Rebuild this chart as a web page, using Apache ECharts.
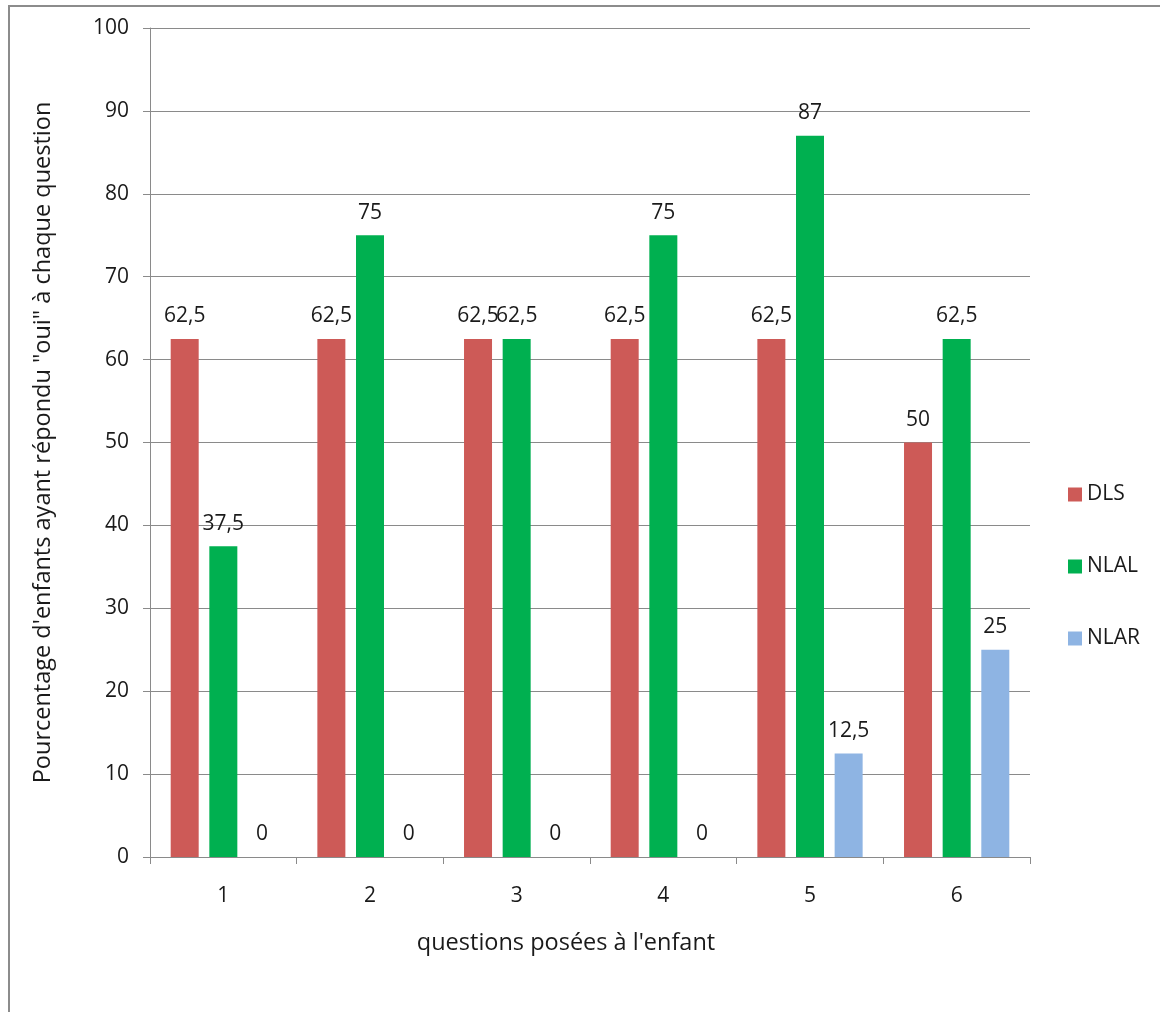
<!DOCTYPE html>
<html>
<head>
<meta charset="utf-8">
<script src="https://cdn.jsdelivr.net/npm/echarts@6/dist/echarts.min.js"></script>
<style>
  html, body { margin: 0; padding: 0; background: #fff; }
  #chart { width: 1160px; height: 1012px; }
</style>
</head>
<body>
<div id="chart"></div>
<script>
// Questions asked to the child
const questions = ['1', '2', '3', '4', '5', '6'];
// Percentage of children answering "oui", per group
const dls  = [62.5, 62.5, 62.5, 62.5, 62.5, 50];
const nlal = [37.5, 75, 62.5, 75, 87, 62.5];
const nlar = [0, 0, 0, 0, 12.5, 25];
const yTicks = { min: 0, max: 100, step: 10 };

const FONT = '"Open Sans"';
const FS = 21;        // tick labels, data labels, legend
const FS_TITLE = 23.5; // axis titles
const TEXT = '#1a1a1a';
const AXIS = '#8a8a8a';

const frenchNumber = v => String(v).replace('.', ',');

function barSeries(name, data, color) {
  return {
    name: name,
    type: 'bar',
    data: data,
    barWidth: 28,
    barGap: '38%',
    itemStyle: { color: color },
    label: {
      show: true,
      position: 'top',
      distance: 12,
      color: TEXT,
      fontFamily: FONT,
      fontSize: FS,
      formatter: p => frenchNumber(p.value)
    }
  };
}

const chart = echarts.init(document.getElementById('chart'));
chart.setOption({
  animation: false,
  backgroundColor: '#fff',
  textStyle: { fontFamily: FONT },
  grid: { left: 150, right: 130, top: 28, bottom: 155, containLabel: false },
  legend: {
    orient: 'vertical',
    left: 1063,
    top: 479,
    itemWidth: 14,
    itemHeight: 14,
    itemGap: 51,
    icon: 'rect',
    textStyle: { fontFamily: FONT, fontSize: FS, color: TEXT, padding: [0, 0, 0, 0] },
    data: ['DLS', 'NLAL', 'NLAR']
  },
  xAxis: {
    type: 'category',
    data: questions,
    axisLine: { show: true, lineStyle: { color: AXIS, width: 1 } },
    axisTick: { show: true, length: 7, alignWithLabel: false, lineStyle: { color: AXIS } },
    axisLabel: { color: TEXT, fontFamily: FONT, fontSize: FS, margin: 29 },
    splitLine: { show: false }
  },
  yAxis: {
    type: 'value',
    min: yTicks.min,
    max: yTicks.max,
    interval: yTicks.step,
    axisLine: { show: true, lineStyle: { color: AXIS, width: 1 } },
    axisTick: { show: true, length: 7, lineStyle: { color: AXIS } },
    axisLabel: { color: TEXT, fontFamily: FONT, fontSize: FS, margin: 21 },
    splitLine: { show: true, lineStyle: { color: AXIS, width: 1 } },
    name: 'Pourcentage d\'enfants ayant répondu "oui" à chaque question',
    nameLocation: 'middle',
    nameGap: 95,
    nameRotate: 90,
    nameTextStyle: { color: TEXT, fontFamily: FONT, fontSize: FS_TITLE }
  },
  graphic: [
    {
      type: 'rect',
      silent: true,
      shape: { x: 9, y: 6, width: 1300, height: 1200 },
      style: { fill: 'none', stroke: '#8c8c8c', lineWidth: 2 },
      z: -1
    },
    {
      type: 'text',
      silent: true,
      x: 566,
      y: 943,
      style: {
        text: 'questions posées à l\'enfant',
        fontFamily: FONT,
        fontSize: FS_TITLE,
        fill: TEXT,
        align: 'center',
        verticalAlign: 'middle'
      }
    }
  ],
  series: [
    barSeries('DLS', dls, '#CD5A57'),
    barSeries('NLAL', nlal, '#00B050'),
    barSeries('NLAR', nlar, '#8EB4E3')
  ]
});
</script>
</body>
</html>
